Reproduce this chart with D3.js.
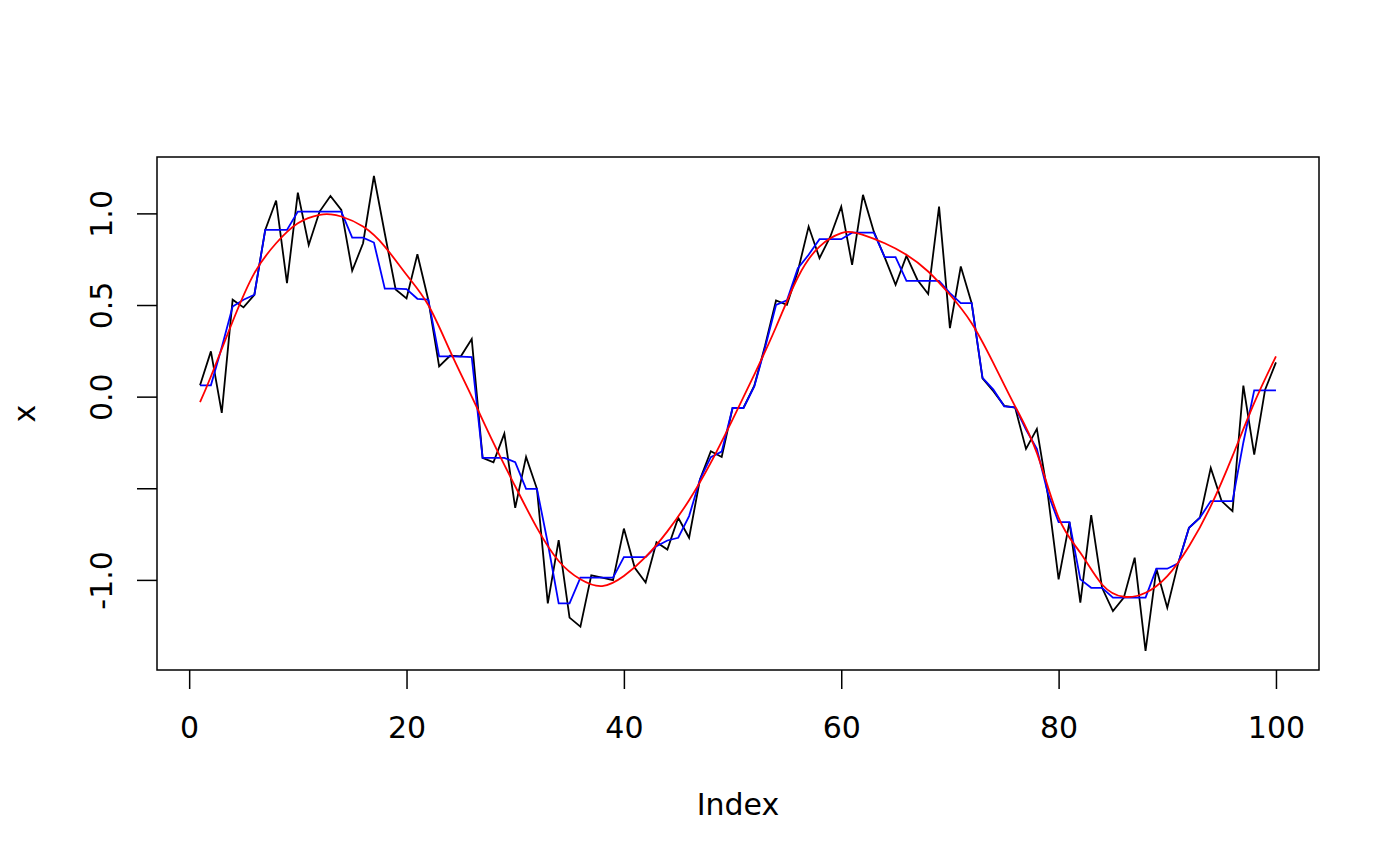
<!DOCTYPE html>
<html>
<head>
<meta charset="utf-8">
<script src="https://cdn.jsdelivr.net/npm/d3@7"></script>
<style>
  html, body { margin: 0; padding: 0; background: #fff; }
  svg { display: block; }
  text { font-family: "DejaVu Sans", sans-serif; }
</style>
</head>
<body>
<svg id="chart" width="1400" height="866"></svg>
<script>
// Observed series (index 1..100)
const rawValues = [
  0.062, 0.247, -0.089, 0.529, 0.487, 0.556, 0.910, 1.070, 0.619, 1.113,
  0.828, 1.010, 1.095, 1.019, 0.687, 0.837, 1.204, 0.890, 0.585, 0.536,
  0.777, 0.529, 0.165, 0.223, 0.220, 0.314, -0.334, -0.358, -0.202, -0.607,
  -0.329, -0.503, -1.128, -0.783, -1.206, -1.255, -0.975, -0.988, -1.001, -0.720,
  -0.934, -1.014, -0.794, -0.834, -0.661, -0.770, -0.452, -0.298, -0.329, -0.062,
  -0.062, 0.060, 0.280, 0.525, 0.501, 0.683, 0.928, 0.756, 0.874, 1.037,
  0.719, 1.101, 0.900, 0.760, 0.610, 0.768, 0.638, 0.560, 1.037, 0.374,
  0.710, 0.510, 0.100, 0.030, -0.050, -0.060, -0.285, -0.176, -0.530, -0.997,
  -0.685, -1.124, -0.647, -1.043, -1.170, -1.097, -0.879, -1.388, -0.939, -1.152,
  -0.910, -0.716, -0.661, -0.389, -0.570, -0.625, 0.060, -0.316, 0.038, 0.187
];

// Median-smoothed series (blue), index 1..100
const medianValues = [
  0.062, 0.062, 0.270, 0.492, 0.529, 0.556, 0.910, 0.910, 0.910, 1.010,
  1.010, 1.010, 1.010, 1.010, 0.868, 0.868, 0.841, 0.589, 0.589, 0.587,
  0.534, 0.529, 0.220, 0.220, 0.218, 0.216, -0.334, -0.334, -0.334, -0.358,
  -0.503, -0.503, -0.800, -1.128, -1.128, -0.988, -0.988, -0.988, -0.988, -0.876,
  -0.876, -0.876, -0.816, -0.785, -0.770, -0.652, -0.452, -0.330, -0.300, -0.062,
  -0.062, 0.056, 0.270, 0.500, 0.525, 0.700, 0.774, 0.859, 0.859, 0.859,
  0.895, 0.895, 0.895, 0.761, 0.761, 0.632, 0.632, 0.632, 0.632, 0.565,
  0.510, 0.510, 0.102, 0.038, -0.053, -0.058, -0.180, -0.285, -0.525, -0.685,
  -0.685, -0.997, -1.043, -1.043, -1.097, -1.097, -1.097, -1.097, -0.939, -0.939,
  -0.910, -0.716, -0.661, -0.570, -0.570, -0.570, -0.250, 0.034, 0.034, 0.034
];

// Smooth fit (red), sampled indices and values
const smoothIndex = [1, 2, 4, 6, 8, 10, 12, 13, 14, 16, 18, 20, 22, 24, 26, 28, 30, 32, 34, 36,
  38, 40, 42, 44, 46, 48, 50, 52, 54, 56, 58, 60, 61, 62, 64, 66, 68, 70, 72, 74,
  76, 78, 80, 82, 84, 86, 88, 90, 92, 94, 96, 98, 100];
const smoothValues = [-0.030, 0.110, 0.410, 0.674, 0.837, 0.946, 0.992, 0.995, 0.983, 0.928,
  0.819, 0.665, 0.500, 0.250, 0.000, -0.252, -0.489, -0.716, -0.897, -0.997,
  -1.034, -0.979, -0.875, -0.735, -0.565, -0.360, -0.125, 0.120, 0.380, 0.650,
  0.819, 0.892, 0.897, 0.883, 0.837, 0.774, 0.683, 0.556, 0.401, 0.183,
  -0.053, -0.307, -0.660, -0.852, -1.025, -1.092, -1.070, -0.979, -0.816, -0.598,
  -0.325, -0.034, 0.220];

const xTicks = [0, 20, 40, 60, 80, 100];
const xTickLabels = ["0", "20", "40", "60", "80", "100"];
const yTicks = [-1.0, -0.5, 0.0, 0.5, 1.0];
const yTickLabels = ["-1.0", "", "0.0", "0.5", "1.0"];
const xLabel = "Index";
const yLabel = "x";

// Layout
const plot = { left: 157, right: 1319, top: 157, bottom: 670 };
const svg = d3.select("#chart");

const indices = d3.range(1, rawValues.length + 1);
const allVals = rawValues.concat(medianValues, smoothValues);
const xExt = d3.extent(indices);
const yExt = d3.extent(allVals);
const xPad = (xExt[1] - xExt[0]) * 0.04;
const yPad = (yExt[1] - yExt[0]) * 0.04;

const x = d3.scaleLinear().domain([xExt[0] - xPad, xExt[1] + xPad]).range([plot.left, plot.right]);
const y = d3.scaleLinear().domain([yExt[0] - yPad, yExt[1] + yPad]).range([plot.bottom, plot.top]);

const line = d3.line().x(d => x(d[0])).y(d => y(d[1]));

svg.append("path")
  .datum(indices.map((i, k) => [i, rawValues[k]]))
  .attr("d", line)
  .attr("fill", "none").attr("stroke", "#000").attr("stroke-width", 1.8)
  .attr("stroke-linejoin", "miter");

svg.append("path")
  .datum(indices.map((i, k) => [i, medianValues[k]]))
  .attr("d", line)
  .attr("fill", "none").attr("stroke", "#0000ff").attr("stroke-width", 1.8);

svg.append("path")
  .datum(smoothIndex.map((i, k) => [i, smoothValues[k]]))
  .attr("d", d3.line().x(d => x(d[0])).y(d => y(d[1])).curve(d3.curveNatural))
  .attr("fill", "none").attr("stroke", "#ff0000").attr("stroke-width", 1.8);

// Box
svg.append("rect")
  .attr("x", plot.left).attr("y", plot.top)
  .attr("width", plot.right - plot.left).attr("height", plot.bottom - plot.top)
  .attr("fill", "none").attr("stroke", "#000").attr("stroke-width", 1.5);

// X axis
const xAxis = d3.axisBottom(x).tickValues(xTicks)
  .tickFormat((d, i) => xTickLabels[i]).tickSize(19).tickPadding(0);
const gx = svg.append("g").attr("transform", `translate(0,${plot.bottom})`).call(xAxis);
gx.select(".domain").remove();
gx.selectAll(".tick line").attr("stroke", "#000").attr("stroke-width", 1.5);
gx.selectAll(".tick text")
  .attr("y", 68).attr("dy", null)
  .attr("font-size", 30).attr("font-family", "DejaVu Sans").attr("fill", "#000");

// Y axis
const yAxis = d3.axisLeft(y).tickValues(yTicks)
  .tickFormat((d, i) => yTickLabels[i]).tickSize(20).tickPadding(0);
const gy = svg.append("g").attr("transform", `translate(${plot.left},0)`).call(yAxis);
gy.select(".domain").remove();
gy.selectAll(".tick line").attr("stroke", "#000").attr("stroke-width", 1.5);
gy.selectAll(".tick text")
  .attr("x", null).attr("dy", null)
  .attr("text-anchor", "middle")
  .attr("transform", "translate(-45,0) rotate(-90)")
  .attr("font-size", 30).attr("font-family", "DejaVu Sans").attr("fill", "#000");

// Axis titles
svg.append("text")
  .attr("x", (plot.left + plot.right) / 2).attr("y", 815)
  .attr("text-anchor", "middle").attr("font-size", 30).text(xLabel);

svg.append("text")
  .attr("transform", `translate(35,${(plot.top + plot.bottom) / 2}) rotate(-90)`)
  .attr("text-anchor", "middle").attr("font-size", 30).text(yLabel);
</script>
</body>
</html>
